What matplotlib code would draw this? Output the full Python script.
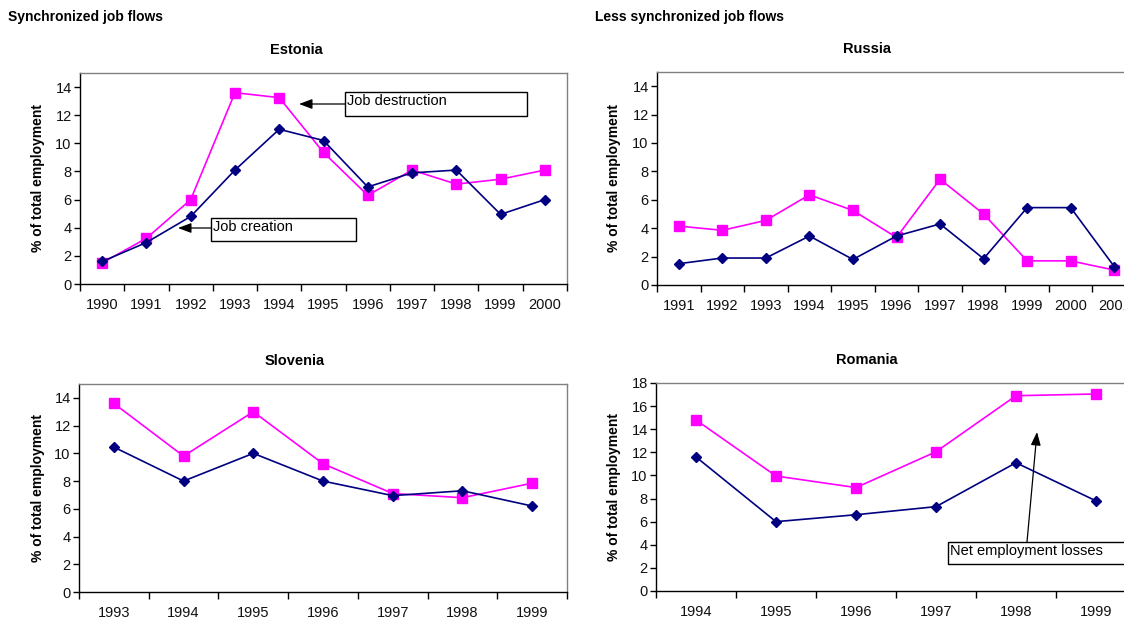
import matplotlib
matplotlib.use("Agg")
import matplotlib.pyplot as plt
from matplotlib.patches import Rectangle

plt.rcParams["font.family"] = ["Liberation Sans", "DejaVu Sans"]

# Estonia
est_years = ["1990", "1991", "1992", "1993", "1994", "1995", "1996", "1997", "1998", "1999", "2000"]
est_creation = [1.6, 2.95, 4.8, 8.1, 11.0, 10.2, 6.9, 7.9, 8.1, 4.95, 6.0]
est_destruction = [1.5, 3.25, 6.0, 13.6, 13.25, 9.35, 6.3, 8.1, 7.1, 7.45, 8.1]

# Russia
rus_years = ["1991", "1992", "1993", "1994", "1995", "1996", "1997", "1998", "1999", "2000", "2001"]
rus_creation = [1.5, 1.9, 1.9, 3.45, 1.8, 3.45, 4.3, 1.85, 5.45, 5.45, 1.3]
rus_destruction = [4.15, 3.85, 4.55, 6.35, 5.25, 3.35, 7.45, 5.0, 1.7, 1.7, 1.05]

# Slovenia
slo_years = ["1993", "1994", "1995", "1996", "1997", "1998", "1999"]
slo_creation = [10.45, 8.0, 10.0, 8.0, 6.95, 7.3, 6.2]
slo_destruction = [13.6, 9.8, 13.0, 9.25, 7.1, 6.8, 7.85]

# Romania
rom_years = ["1994", "1995", "1996", "1997", "1998", "1999"]
rom_creation = [11.6, 6.0, 6.6, 7.3, 11.1, 7.8]
rom_destruction = [14.8, 9.95, 8.95, 12.05, 16.9, 17.05]

W, H = 1124, 622
NAVY = "#000080"
MAGENTA = "#FF00FF"
GREY = "#808080"


def fx(x):
    return x / W


def fy(y):
    return 1 - y / H


def panel(fig, rect_px, title, title_x, years, creation, destruction, ymax, ylabel_x):
    left, top, right, bottom = rect_px
    ax = fig.add_axes([fx(left), fy(bottom), (right - left) / W, (bottom - top) / H])
    n = len(years)
    xs = list(range(n))
    ax.plot(xs, destruction, color=MAGENTA, lw=1.2, marker="s", ms=7,
            mfc=MAGENTA, mec=MAGENTA, clip_on=False, zorder=3)
    ax.plot(xs, creation, color=NAVY, lw=1.2, marker="D", ms=5,
            mfc=NAVY, mec=NAVY, clip_on=False, zorder=4)
    ax.set_xlim(-0.5, n - 0.5)
    ax.set_ylim(0, ymax)
    ax.set_yticks(range(0, ymax + 1, 2))
    ax.set_xticks([i - 0.5 for i in range(n + 1)])
    ax.set_xticklabels([])
    ax.set_xticks(xs, minor=True)
    ax.set_xticklabels(years, minor=True)
    ax.tick_params(axis="x", which="major", direction="out", length=5, width=1, color="black")
    ax.tick_params(axis="x", which="minor", length=0, pad=10, labelsize=10.5, colors="#111111")
    ax.tick_params(axis="y", direction="out", length=4, width=1, labelsize=10.5, colors="#111111", pad=2)
    ax.tick_params(axis="y", color="black")
    ax.spines["left"].set_color("black")
    ax.spines["bottom"].set_color("black")
    ax.spines["top"].set_color(GREY)
    ax.spines["right"].set_color(GREY)
    for s in ax.spines.values():
        s.set_linewidth(1.0)
    fig.text(fx(title_x), fy(top - 23), title, ha="center", va="center",
             fontsize=10.5, fontweight="bold")
    fig.text(fx(ylabel_x), fy((top + bottom) / 2), "% of total employment",
             rotation=90, ha="center", va="center", fontsize=10, fontweight="bold")
    return ax


fig = plt.figure(figsize=(W / 100, H / 100), dpi=100)

panel(fig, (80, 73, 567, 284), "Estonia", 296, est_years, est_creation, est_destruction, 15, 38)
panel(fig, (657, 72, 1136, 285), "Russia", 867, rus_years, rus_creation, rus_destruction, 15, 614)
panel(fig, (79, 384, 567, 592), "Slovenia", 295, slo_years, slo_creation, slo_destruction, 15, 38)
panel(fig, (656, 383, 1136, 591), "Romania", 867, rom_years, rom_creation, rom_destruction, 18, 614)

fig.text(fx(8), fy(17), "Synchronized job flows", ha="left", va="center",
         fontsize=10, fontweight="bold")
fig.text(fx(595), fy(17), "Less synchronized job flows", ha="left", va="center",
         fontsize=10, fontweight="bold")


def note_box(x0, y0, x1, y1, text):
    fig.add_artist(Rectangle((fx(x0), fy(y1)), (x1 - x0) / W, (y1 - y0) / H,
                             transform=fig.transFigure, fill=True, fc="white",
                             ec="black", lw=1.0, zorder=5))
    fig.text(fx(x0 + 2), fy(y0 + 9), text, ha="left", va="center", fontsize=10.5, zorder=6)


def note_arrow(x_from, y_from, x_to, y_to):
    fig.add_artist(plt.Annotation(
        "", xy=(fx(x_to), fy(y_to)), xytext=(fx(x_from), fy(y_from)),
        xycoords="figure fraction", textcoords="figure fraction",
        arrowprops=dict(arrowstyle="-|>,head_length=0.8,head_width=0.3",
                        color="black", lw=0.9, shrinkA=0, shrinkB=0)))


note_arrow(345, 104, 299, 104)
note_box(345, 92, 527, 116, "Job destruction")
note_arrow(211, 228, 178, 228)
note_box(211, 218, 356, 241, "Job creation")
note_arrow(1027, 542, 1037, 432)
note_box(948, 542, 1140, 564, "Net employment losses")

fig.savefig("out.png", dpi=100)
